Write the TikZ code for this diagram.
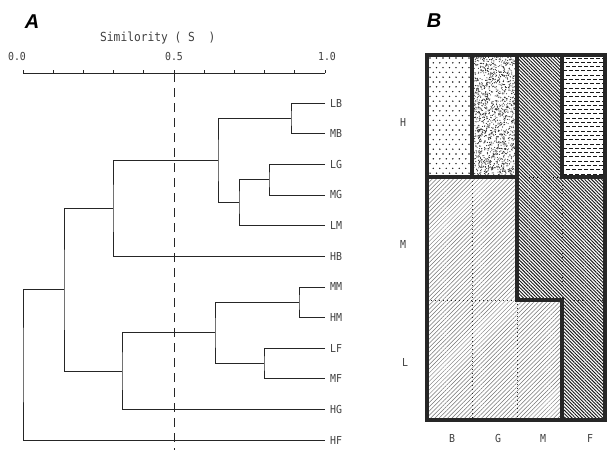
\documentclass[tikz,border=0pt]{standalone}
\usepackage{fontspec}
\newfontfamily\mono{DejaVu Sans Mono}[FakeStretch=0.9]
\newfontfamily\hdfont{Liberation Sans}
\usetikzlibrary{patterns.meta}
\begin{document}
\begin{tikzpicture}[x=1pt,y=-1pt,
  dend/.style={line width=0.8pt, black!85},
  leaf/.style={anchor=west, font=\mono\fontsize{11}{11}\selectfont, text=black!75, inner sep=0pt},
  axlbl/.style={font=\mono\fontsize{11}{11}\selectfont, text=black!75, inner sep=0pt},
  panel/.style={font=\hdfont\bfseries\itshape\fontsize{20}{20}\selectfont, inner sep=0pt},
  bline/.style={line width=3.2pt, black!85, line cap=rect},
  dotline/.style={line width=1pt, black!85, dash pattern=on 1.3pt off 2.7pt},
  ]
\useasboundingbox (0,0) rectangle (607,450);

% ---------- panel A ----------
\node[panel] (pA) at (32,22) {A};
\node[axlbl, anchor=west, font=\mono\fontsize{12.5}{12.5}\selectfont] (title) at (100,38) {Similority ( S\ \ )};
\node[axlbl] (l00) at (17,56) {0.0};
\node[axlbl] (l05) at (174,56) {0.5};
\node[axlbl] (l10) at (327,56) {1.0};

\coordinate (ax0) at (23,73);
\coordinate (ax1) at (325,73);
\draw[dend] (ax0) -- (ax1);
\foreach \t in {0,...,10} \draw[dend] ({23+30.2*\t},73) -- ++(0,-3);
\coordinate (half) at (174,73);
\coordinate (halfend) at (174,450);
\draw[line width=0.9pt, black!85, dash pattern=on 9pt off 6pt] (half) -- (halfend);

\foreach \n [count=\k from 0] in {LB,MB,LG,MG,LM,HB,MM,HM,LF,MF,HG,HF} {
  \coordinate (\n) at (325, {103+30.65*\k});
  \node[leaf] (lab\n) at (330, {103+30.65*\k}) {\n};
}
\coordinate (a) at (291,118.3);
\coordinate (b) at (269,179.6);
\coordinate (c) at (239,202.6);
\coordinate (d) at (218,160.5);
\coordinate (e) at (113,208.3);
\coordinate (f) at (299,302.2);
\coordinate (g) at (264,363.5);
\coordinate (h) at (215,332.8);
\coordinate (i) at (122,371.2);
\coordinate (j) at (64,289.8);
\coordinate (r) at (23,365);

\draw[dend] (LB) -| (a) |- (MB);
\draw[dend] (LG) -| (b) |- (MG);
\draw[dend] (b) -| (c) |- (LM);
\draw[dend] (a) -| (d) |- (c);
\draw[dend] (d) -| (e) |- (HB);
\draw[dend] (MM) -| (f) |- (HM);
\draw[dend] (LF) -| (g) |- (MF);
\draw[dend] (f) -| (h) |- (g);
\draw[dend] (h) -| (i) |- (HG);
\draw[dend] (e) -| (j) |- (i);
\draw[dend] (j) -| (r) |- (HF);

% ---------- panel B ----------
\node[panel] (pB) at (434,21) {B};
\foreach \xi/\xv in {0/427,1/472,2/517,3/562,4/605}
  \foreach \yi/\yv in {0/55,1/177,2/300,3/420}
    \coordinate (g\xi\yi) at (\xv,\yv);

% dark hatched region
\path[pattern={Lines[angle=-45,distance=2.4pt,line width=0.95pt]}, pattern color=black!90]
  (g20) -- (g30) -- (g31) -- (g41) -- (g43) -- (g33) -- (g32) -- (g22) -- cycle;
% light hatched region
\path[pattern={Lines[angle=45,distance=3pt,line width=0.5pt]}, pattern color=black!55]
  (g01) -- (g21) -- (g22) -- (g32) -- (g33) -- (g03) -- cycle;
% dots in H,B
\begin{scope}
  \clip (g00) rectangle (g11);
  \foreach \rr in {0,...,25}
    \foreach \cc in {0,...,7}
      \fill[black!90] ({430+6.5*\cc+mod(\rr,2)*3.25}, {58+4.8*\rr}) circle (0.8pt);
\end{scope}
% stipple in H,G
\begin{scope}
  \clip (g10) rectangle (g21);
  \pgfmathsetseed{7}
  \foreach \q in {1,...,1500}
    \fill[black!85] ({472+45*rnd}, {55+122*rnd}) circle (0.55pt);
\end{scope}
% dashes in H,F
\begin{scope}
  \clip (g30) rectangle (g41);
  \foreach \rr in {0,...,27}
    \foreach \cc in {0,...,7}
      \draw[line width=1pt, black!90] ({560+6*\cc+mod(\rr,2)*3}, {58+4.3*\rr}) -- ++(3.5,0);
\end{scope}

% dotted boundaries
\draw[dotline] (g21) -- (g31);
\draw[dotline] (g11) -- (g13);
\draw[dotline] (g31) -- (g32);
\draw[dotline] (g02) -- (g22);
\draw[dotline] (g32) -- (g42);
\draw[dotline] (g22) -- (g23);
% thick boundaries
\draw[bline] (g00) rectangle (g43);
\draw[bline] (g10) -- (g11);
\draw[bline] (g20) -- (g22) -- (g32) -- (g33);
\draw[bline] (g30) -- (g31);
\draw[bline] (g01) -- (g21);
\draw[bline] (g31) -- (g41);

% labels
\node[axlbl] (rowH) at (403,122) {H};
\node[axlbl] (rowM) at (403,244) {M};
\node[axlbl] (rowL) at (405,362) {L};
\node[axlbl] (colB) at (452,438) {B};
\node[axlbl] (colG) at (498,438) {G};
\node[axlbl] (colM) at (543,438) {M};
\node[axlbl] (colF) at (590,438) {F};
\end{tikzpicture}
\end{document}
